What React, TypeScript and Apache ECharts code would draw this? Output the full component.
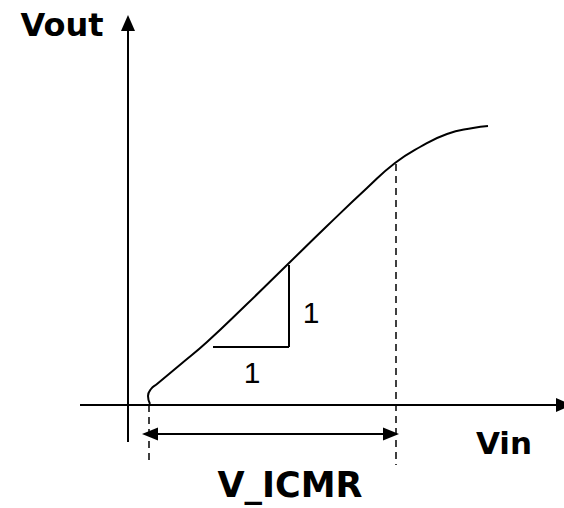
import React, { useEffect, useRef } from "react";
import * as echarts from "echarts";

// Transfer curve (Vin, Vout), origin at the axes crossing
const curveVin = [22, 20, 23, 29, 53, 79, 119, 159, 199, 239, 267, 292, 319, 345, 360];
const curveVout = [1, 9, 16, 21, 41, 63, 101, 140, 179, 217, 242, 258, 271, 277, 279];

// Axis extents
const xAxisRange = [-48, 436];
const yAxisRange = [-37, 382];

// ICMR bounds (Vin) and related marks
const icmrLow = 21;
const icmrHigh = 267;
const icmrHighVout = 241;
const dashBottom = -60;
const arrowY = -29;

// Slope triangle
const triX = [85, 161];
const triY = [58, 140];

// Labels
const labels = [
  { name: "Vout", pos: [-66, 380], size: 32, bold: true },
  { name: "Vin", pos: [376, -38], size: 31, bold: true },
  { name: "V_ICMR", pos: [162, -80], size: 35, bold: true },
  { name: "1", pos: [183, 93], size: 30, bold: false },
  { name: "1", pos: [124, 33], size: 30, bold: false },
];

const FONT = "'Comic Sans MS', 'DejaVu Sans', sans-serif";

export default function App() {
  const ref = useRef<HTMLDivElement>(null);
  useEffect(() => {
    document.body.style.margin = "0";
    const chart = echarts.init(ref.current!, null, { renderer: "svg" });
    const black = "#000";
    const line = (a: number[], b: number[], opts: any = {}) => [
      { coord: a, symbol: opts.s0 || "none", symbolSize: opts.size || [13, 15] },
      { coord: b, symbol: opts.s1 || "none", symbolSize: opts.size || [13, 15] },
    ];
    chart.setOption({
      animation: false,
      backgroundColor: "#fff",
      grid: { left: 0, right: 0, top: 0, bottom: 0 },
      xAxis: { type: "value", min: -128, max: 436, show: false },
      yAxis: { type: "value", min: -103, max: 405, show: false },
      series: [
        {
          type: "line",
          data: curveVin.map((x, i) => [x, curveVout[i]]),
          smooth: 0.5,
          symbol: "none",
          lineStyle: { color: black, width: 2 },
          z: 3,
        },
        {
          type: "line",
          data: [],
          markLine: {
            silent: true,
            animation: false,
            label: { show: false },
            lineStyle: { color: black, width: 2, type: "solid" },
            data: [
              line([0, yAxisRange[0]], [0, yAxisRange[1]], { s1: "triangle", size: [14, 16] }),
              line([xAxisRange[0], 0], [xAxisRange[1], 0], { s1: "triangle", size: [14, 16] }),
              line([icmrLow + 1, arrowY], [icmrHigh - 4, arrowY], {
                s0: "triangle",
                s1: "triangle",
                size: [13, 16],
              }),
              line([triX[0], triY[0]], [triX[1], triY[0]]),
              line([triX[1], triY[0]], [triX[1], triY[1]]),
            ],
          },
        },
        {
          type: "line",
          data: [],
          markLine: {
            silent: true,
            animation: false,
            label: { show: false },
            lineStyle: { color: black, width: 1.5, type: [7, 5] },
            data: [
              line([icmrLow, 0], [icmrLow, dashBottom]),
              line([icmrHigh + 1, icmrHighVout], [icmrHigh + 1, dashBottom]),
            ],
          },
        },
        {
          type: "scatter",
          symbolSize: 0,
          itemStyle: { opacity: 1, color: black },
          data: labels.map((l) => ({
            name: l.name,
            value: l.pos,
            label: {
              show: true,
              position: "inside",
              formatter: "{b}",
              color: black,
              opacity: 1,
              textBorderWidth: 0,
              fontSize: l.size,
              fontWeight: l.bold ? "bold" : "normal",
              fontFamily: l.bold ? FONT : "'Liberation Sans', 'DejaVu Sans', sans-serif",
            },
          })),
        },
      ],
    });
    return () => chart.dispose();
  }, []);
  return <div ref={ref} style={{ width: 564, height: 508 }} />;
}
